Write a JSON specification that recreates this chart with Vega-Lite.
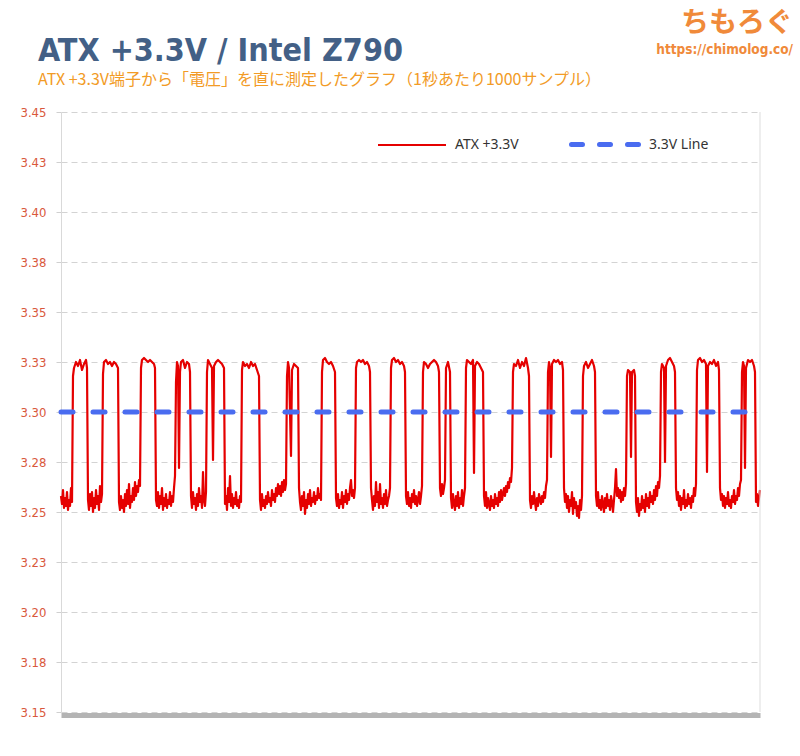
{
"$schema": "https://vega.github.io/schema/vega-lite/v6.json",
"width": 699, "height": 600,
"autosize": {"type": "none"},
"padding": {"left": 61, "top": 112, "right": 40, "bottom": 44},
"background": "#ffffff",
"title": {"text": "ATX +3.3V / Intel Z790", "subtitle": "ATX +3.3V端子から「電圧」を直に測定したグラフ（1秒あたり1000サンプル）", "anchor": "start", "frame": "group", "dx": -23, "dy": 107, "offset": 28, "font": "'DejaVu Sans Condensed', Roboto, sans-serif", "fontSize": 32, "fontWeight": "bold", "color": "#436086", "subtitleFont": "Noto Sans CJK JP", "subtitleFontSize": 16, "subtitleColor": "#F29B26", "subtitlePadding": 4},
"datasets": {
"atx": [
{"t":1,"v":3.258},{"t":2,"v":3.254},{"t":3,"v":3.261},{"t":4,"v":3.252},{"t":5,"v":3.257},{"t":6,"v":3.253},{"t":7,"v":3.26},{"t":8,"v":3.251},{"t":9,"v":3.256},{"t":10,"v":3.253},{"t":11,"v":3.262},{"t":12,"v":3.255},
{"t":13,"v":3.318},{"t":14,"v":3.322},{"t":16,"v":3.325},{"t":18,"v":3.323},{"t":20,"v":3.326},{"t":22,"v":3.321},{"t":24,"v":3.324},{"t":26,"v":3.326},{"t":27,"v":3.322},
{"t":28,"v":3.256},{"t":29,"v":3.251},{"t":30,"v":3.259},{"t":31,"v":3.253},{"t":32,"v":3.26},{"t":33,"v":3.25},{"t":34,"v":3.257},{"t":35,"v":3.252},{"t":36,"v":3.261},{"t":37,"v":3.254},{"t":38,"v":3.258},{"t":39,"v":3.251},{"t":40,"v":3.263},{"t":41,"v":3.255},{"t":42,"v":3.259},
{"t":43,"v":3.319},{"t":44,"v":3.325},{"t":46,"v":3.326},{"t":48,"v":3.324},{"t":50,"v":3.325},{"t":52,"v":3.323},{"t":54,"v":3.325},{"t":56,"v":3.324},{"t":58,"v":3.322},
{"t":59,"v":3.255},{"t":60,"v":3.251},{"t":61,"v":3.258},{"t":62,"v":3.252},{"t":63,"v":3.256},{"t":64,"v":3.25},{"t":65,"v":3.259},{"t":66,"v":3.253},{"t":67,"v":3.261},{"t":68,"v":3.254},{"t":69,"v":3.264},{"t":70,"v":3.252},{"t":71,"v":3.258},{"t":72,"v":3.255},{"t":73,"v":3.262},{"t":74,"v":3.256},{"t":75,"v":3.265},{"t":76,"v":3.258},{"t":77,"v":3.263},{"t":78,"v":3.26},{"t":79,"v":3.266},{"t":80,"v":3.263},
{"t":81,"v":3.322},{"t":82,"v":3.326},{"t":84,"v":3.327},{"t":86,"v":3.326},{"t":88,"v":3.325},{"t":90,"v":3.326},{"t":92,"v":3.325},{"t":94,"v":3.324},{"t":95,"v":3.322},
{"t":96,"v":3.256},{"t":97,"v":3.253},{"t":98,"v":3.26},{"t":99,"v":3.252},{"t":100,"v":3.258},{"t":101,"v":3.254},{"t":102,"v":3.262},{"t":103,"v":3.251},{"t":104,"v":3.257},{"t":105,"v":3.253},{"t":106,"v":3.259},{"t":107,"v":3.252},{"t":108,"v":3.256},{"t":109,"v":3.254},{"t":110,"v":3.26},{"t":111,"v":3.253},{"t":112,"v":3.258},{"t":113,"v":3.255},{"t":114,"v":3.262},{"t":115,"v":3.268},
{"t":116,"v":3.315},{"t":117,"v":3.325},{"t":118,"v":3.323},{"t":119,"v":3.272},{"t":120,"v":3.32},{"t":121,"v":3.325},{"t":123,"v":3.326},{"t":125,"v":3.322},{"t":127,"v":3.325},{"t":129,"v":3.324},{"t":130,"v":3.32},
{"t":131,"v":3.258},{"t":132,"v":3.252},{"t":133,"v":3.26},{"t":134,"v":3.254},{"t":135,"v":3.257},{"t":136,"v":3.251},{"t":137,"v":3.259},{"t":138,"v":3.253},{"t":139,"v":3.262},{"t":140,"v":3.255},{"t":141,"v":3.258},{"t":142,"v":3.252},{"t":143,"v":3.27},{"t":144,"v":3.256},{"t":145,"v":3.253},{"t":146,"v":3.26},
{"t":147,"v":3.32},{"t":148,"v":3.326},{"t":150,"v":3.324},{"t":152,"v":3.322},{"t":153,"v":3.276},{"t":154,"v":3.323},{"t":156,"v":3.325},{"t":158,"v":3.326},{"t":160,"v":3.325},{"t":162,"v":3.324},{"t":164,"v":3.322},
{"t":165,"v":3.254},{"t":166,"v":3.258},{"t":167,"v":3.251},{"t":168,"v":3.262},{"t":169,"v":3.255},{"t":170,"v":3.268},{"t":171,"v":3.253},{"t":172,"v":3.259},{"t":173,"v":3.252},{"t":174,"v":3.257},{"t":175,"v":3.254},{"t":176,"v":3.26},{"t":177,"v":3.253},{"t":178,"v":3.256},{"t":179,"v":3.252},{"t":180,"v":3.258},{"t":181,"v":3.255},
{"t":182,"v":3.321},{"t":183,"v":3.325},{"t":185,"v":3.323},{"t":187,"v":3.324},{"t":189,"v":3.322},{"t":191,"v":3.325},{"t":193,"v":3.323},{"t":195,"v":3.324},{"t":197,"v":3.321},{"t":199,"v":3.318},
{"t":200,"v":3.256},{"t":201,"v":3.251},{"t":202,"v":3.259},{"t":203,"v":3.253},{"t":204,"v":3.256},{"t":205,"v":3.252},{"t":206,"v":3.258},{"t":207,"v":3.254},{"t":208,"v":3.26},{"t":209,"v":3.255},{"t":210,"v":3.257},{"t":211,"v":3.253},{"t":212,"v":3.261},{"t":213,"v":3.256},{"t":214,"v":3.259},{"t":215,"v":3.255},{"t":216,"v":3.262},{"t":217,"v":3.258},{"t":218,"v":3.264},{"t":219,"v":3.259},{"t":220,"v":3.263},{"t":221,"v":3.258},{"t":222,"v":3.265},{"t":223,"v":3.26},{"t":224,"v":3.266},{"t":225,"v":3.261},{"t":226,"v":3.264},
{"t":227,"v":3.318},{"t":228,"v":3.325},{"t":229,"v":3.322},{"t":231,"v":3.278},{"t":232,"v":3.321},{"t":234,"v":3.324},{"t":236,"v":3.323},{"t":238,"v":3.322},
{"t":239,"v":3.262},{"t":240,"v":3.255},{"t":241,"v":3.251},{"t":242,"v":3.258},{"t":243,"v":3.253},{"t":244,"v":3.26},{"t":245,"v":3.249},{"t":246,"v":3.256},{"t":247,"v":3.252},{"t":248,"v":3.259},{"t":249,"v":3.254},{"t":250,"v":3.261},{"t":251,"v":3.253},{"t":252,"v":3.257},{"t":253,"v":3.255},{"t":254,"v":3.26},{"t":255,"v":3.254},{"t":256,"v":3.258},{"t":257,"v":3.256},{"t":258,"v":3.262},{"t":259,"v":3.257},{"t":260,"v":3.259},{"t":261,"v":3.256},
{"t":262,"v":3.32},{"t":263,"v":3.326},{"t":265,"v":3.327},{"t":267,"v":3.325},{"t":269,"v":3.324},{"t":271,"v":3.325},{"t":273,"v":3.323},{"t":275,"v":3.32},
{"t":276,"v":3.257},{"t":277,"v":3.253},{"t":278,"v":3.259},{"t":279,"v":3.252},{"t":280,"v":3.256},{"t":281,"v":3.254},{"t":282,"v":3.26},{"t":283,"v":3.252},{"t":284,"v":3.258},{"t":285,"v":3.255},{"t":286,"v":3.261},{"t":287,"v":3.254},{"t":288,"v":3.259},{"t":289,"v":3.256},{"t":290,"v":3.262},{"t":291,"v":3.266},{"t":292,"v":3.258},{"t":293,"v":3.261},{"t":294,"v":3.257},{"t":295,"v":3.262},
{"t":296,"v":3.322},{"t":297,"v":3.325},{"t":299,"v":3.326},{"t":301,"v":3.325},{"t":303,"v":3.326},{"t":305,"v":3.324},{"t":307,"v":3.325},{"t":309,"v":3.323},{"t":310,"v":3.32},
{"t":311,"v":3.262},{"t":312,"v":3.256},{"t":313,"v":3.251},{"t":314,"v":3.258},{"t":315,"v":3.253},{"t":316,"v":3.265},{"t":317,"v":3.255},{"t":318,"v":3.26},{"t":319,"v":3.252},{"t":320,"v":3.264},{"t":321,"v":3.254},{"t":322,"v":3.257},{"t":323,"v":3.252},{"t":324,"v":3.259},{"t":325,"v":3.254},{"t":326,"v":3.261},{"t":327,"v":3.253},{"t":328,"v":3.256},{"t":329,"v":3.258},{"t":330,"v":3.262},
{"t":331,"v":3.322},{"t":332,"v":3.326},{"t":334,"v":3.327},{"t":336,"v":3.325},{"t":338,"v":3.326},{"t":340,"v":3.324},{"t":342,"v":3.325},{"t":344,"v":3.323},{"t":345,"v":3.32},
{"t":346,"v":3.258},{"t":347,"v":3.254},{"t":348,"v":3.26},{"t":349,"v":3.253},{"t":350,"v":3.257},{"t":351,"v":3.252},{"t":352,"v":3.259},{"t":353,"v":3.255},{"t":354,"v":3.261},{"t":355,"v":3.254},{"t":356,"v":3.258},{"t":357,"v":3.253},{"t":358,"v":3.256},{"t":359,"v":3.26},{"t":360,"v":3.254},{"t":361,"v":3.258},{"t":362,"v":3.263},
{"t":363,"v":3.32},{"t":364,"v":3.325},{"t":366,"v":3.324},{"t":368,"v":3.322},{"t":370,"v":3.324},{"t":372,"v":3.325},{"t":374,"v":3.326},{"t":376,"v":3.325},{"t":378,"v":3.323},{"t":379,"v":3.32},
{"t":380,"v":3.262},{"t":381,"v":3.258},{"t":382,"v":3.264},{"t":383,"v":3.259},{"t":384,"v":3.262},{"t":385,"v":3.266},
{"t":386,"v":3.322},{"t":388,"v":3.325},{"t":390,"v":3.32},
{"t":391,"v":3.257},{"t":392,"v":3.252},{"t":393,"v":3.259},{"t":394,"v":3.254},{"t":395,"v":3.251},{"t":396,"v":3.258},{"t":397,"v":3.253},{"t":398,"v":3.26},{"t":399,"v":3.252},{"t":400,"v":3.257},{"t":401,"v":3.254},{"t":402,"v":3.261},{"t":403,"v":3.253},{"t":404,"v":3.258},{"t":405,"v":3.262},
{"t":406,"v":3.322},{"t":407,"v":3.326},{"t":409,"v":3.325},{"t":411,"v":3.324},{"t":413,"v":3.326},{"t":414,"v":3.2695},{"t":415,"v":3.323},{"t":417,"v":3.325},{"t":419,"v":3.324},{"t":421,"v":3.322},{"t":423,"v":3.32},
{"t":424,"v":3.258},{"t":425,"v":3.253},{"t":426,"v":3.26},{"t":427,"v":3.252},{"t":428,"v":3.257},{"t":429,"v":3.254},{"t":430,"v":3.251},{"t":431,"v":3.258},{"t":432,"v":3.253},{"t":433,"v":3.256},{"t":434,"v":3.252},{"t":435,"v":3.259},{"t":436,"v":3.254},{"t":437,"v":3.257},{"t":438,"v":3.253},{"t":439,"v":3.26},{"t":440,"v":3.255},{"t":441,"v":3.261},{"t":442,"v":3.256},{"t":443,"v":3.259},{"t":444,"v":3.262},{"t":445,"v":3.258},{"t":446,"v":3.263},{"t":447,"v":3.26},{"t":448,"v":3.265},{"t":449,"v":3.262},{"t":450,"v":3.267},{"t":451,"v":3.265},{"t":452,"v":3.272},
{"t":453,"v":3.32},{"t":454,"v":3.324},{"t":456,"v":3.323},{"t":458,"v":3.326},{"t":460,"v":3.322},{"t":462,"v":3.325},{"t":464,"v":3.323},{"t":466,"v":3.327},{"t":468,"v":3.322},{"t":469,"v":3.318},
{"t":470,"v":3.256},{"t":471,"v":3.252},{"t":472,"v":3.258},{"t":473,"v":3.254},{"t":474,"v":3.26},{"t":475,"v":3.255},{"t":476,"v":3.251},{"t":477,"v":3.257},{"t":478,"v":3.253},{"t":479,"v":3.259},{"t":480,"v":3.256},{"t":481,"v":3.254},{"t":482,"v":3.258},{"t":483,"v":3.255},{"t":484,"v":3.26},{"t":485,"v":3.257},{"t":486,"v":3.263},{"t":487,"v":3.266},
{"t":488,"v":3.32},{"t":489,"v":3.325},{"t":490,"v":3.322},{"t":491,"v":3.2775},{"t":492,"v":3.324},{"t":494,"v":3.326},{"t":496,"v":3.325},{"t":498,"v":3.326},{"t":500,"v":3.324},{"t":502,"v":3.325},{"t":503,"v":3.321},
{"t":504,"v":3.262},{"t":505,"v":3.255},{"t":506,"v":3.259},{"t":507,"v":3.252},{"t":508,"v":3.258},{"t":509,"v":3.25},{"t":510,"v":3.256},{"t":511,"v":3.253},{"t":512,"v":3.26},{"t":513,"v":3.249},{"t":514,"v":3.257},{"t":515,"v":3.252},{"t":516,"v":3.255},{"t":517,"v":3.248},{"t":518,"v":3.253},{"t":519,"v":3.247},{"t":520,"v":3.256},{"t":521,"v":3.251},{"t":522,"v":3.258},
{"t":523,"v":3.318},{"t":524,"v":3.323},{"t":526,"v":3.325},{"t":528,"v":3.322},{"t":530,"v":3.324},{"t":532,"v":3.326},{"t":534,"v":3.323},{"t":535,"v":3.32},
{"t":536,"v":3.258},{"t":537,"v":3.253},{"t":538,"v":3.26},{"t":539,"v":3.252},{"t":540,"v":3.256},{"t":541,"v":3.251},{"t":542,"v":3.258},{"t":543,"v":3.254},{"t":544,"v":3.25},{"t":545,"v":3.257},{"t":546,"v":3.252},{"t":547,"v":3.259},{"t":548,"v":3.253},{"t":549,"v":3.256},{"t":550,"v":3.251},{"t":551,"v":3.258},{"t":552,"v":3.255},{"t":553,"v":3.25},{"t":554,"v":3.256},{"t":555,"v":3.262},{"t":556,"v":3.2715},{"t":557,"v":3.258},{"t":558,"v":3.262},{"t":559,"v":3.257},{"t":560,"v":3.261},{"t":561,"v":3.255},{"t":562,"v":3.26},{"t":563,"v":3.256},{"t":564,"v":3.262},{"t":565,"v":3.258},{"t":566,"v":3.264},
{"t":567,"v":3.318},{"t":568,"v":3.321},{"t":570,"v":3.32},{"t":571,"v":3.2775},{"t":572,"v":3.32},{"t":574,"v":3.321},{"t":575,"v":3.318},
{"t":576,"v":3.255},{"t":577,"v":3.25},{"t":578,"v":3.257},{"t":579,"v":3.248},{"t":580,"v":3.254},{"t":581,"v":3.251},{"t":582,"v":3.258},{"t":583,"v":3.252},{"t":584,"v":3.256},{"t":585,"v":3.25},{"t":586,"v":3.259},{"t":587,"v":3.253},{"t":588,"v":3.257},{"t":589,"v":3.252},{"t":590,"v":3.26},{"t":591,"v":3.255},{"t":592,"v":3.258},{"t":593,"v":3.254},{"t":594,"v":3.261},{"t":595,"v":3.256},{"t":596,"v":3.263},{"t":597,"v":3.258},{"t":598,"v":3.265},{"t":599,"v":3.262},{"t":600,"v":3.268},
{"t":601,"v":3.32},{"t":602,"v":3.324},{"t":604,"v":3.322},{"t":605,"v":3.275},{"t":606,"v":3.323},{"t":608,"v":3.326},{"t":610,"v":3.327},{"t":612,"v":3.325},{"t":614,"v":3.323},{"t":615,"v":3.32},
{"t":616,"v":3.262},{"t":617,"v":3.256},{"t":618,"v":3.26},{"t":619,"v":3.253},{"t":620,"v":3.258},{"t":621,"v":3.251},{"t":622,"v":3.257},{"t":623,"v":3.254},{"t":624,"v":3.261},{"t":625,"v":3.252},{"t":626,"v":3.256},{"t":627,"v":3.253},{"t":628,"v":3.259},{"t":629,"v":3.254},{"t":630,"v":3.257},{"t":631,"v":3.252},{"t":632,"v":3.258},{"t":633,"v":3.255},{"t":634,"v":3.262},{"t":635,"v":3.258},{"t":636,"v":3.264},
{"t":637,"v":3.321},{"t":638,"v":3.326},{"t":640,"v":3.327},{"t":642,"v":3.325},{"t":644,"v":3.326},{"t":646,"v":3.324},{"t":647,"v":3.27},{"t":648,"v":3.323},{"t":650,"v":3.325},{"t":652,"v":3.324},{"t":654,"v":3.326},{"t":656,"v":3.323},{"t":658,"v":3.325},{"t":659,"v":3.321},
{"t":660,"v":3.262},{"t":661,"v":3.256},{"t":662,"v":3.259},{"t":663,"v":3.253},{"t":664,"v":3.258},{"t":665,"v":3.252},{"t":666,"v":3.257},{"t":667,"v":3.254},{"t":668,"v":3.26},{"t":669,"v":3.253},{"t":670,"v":3.256},{"t":671,"v":3.252},{"t":672,"v":3.258},{"t":673,"v":3.255},{"t":674,"v":3.261},{"t":675,"v":3.254},{"t":676,"v":3.258},{"t":677,"v":3.256},{"t":678,"v":3.262},{"t":679,"v":3.258},{"t":680,"v":3.264},{"t":681,"v":3.266},
{"t":682,"v":3.32},{"t":683,"v":3.325},{"t":684,"v":3.323},{"t":685,"v":3.272},{"t":686,"v":3.322},{"t":688,"v":3.326},{"t":690,"v":3.325},{"t":692,"v":3.326},{"t":694,"v":3.323},{"t":695,"v":3.32},
{"t":696,"v":3.255},{"t":697,"v":3.259},{"t":698,"v":3.253},{"t":699,"v":3.257},{"t":700,"v":3.261}
],
"ref": [{"t":1,"v":3.3},{"t":700,"v":3.3}]
},
"layer": [
{"data": {"name": "atx"},
 "mark": {"type": "line", "strokeWidth": 2.2, "strokeJoin": "round"},
 "encoding": {
  "x": {"field": "t", "type": "quantitative", "scale": {"domain": [1, 700], "nice": false, "zero": false},
        "axis": {"title": null, "labels": false, "ticks": false, "grid": false, "domainColor": "#b4b4b4", "domainWidth": 5, "offset": 3}},
  "y": {"field": "v", "type": "quantitative", "scale": {"domain": [3.15, 3.45], "nice": false, "zero": false},
        "axis": {"title": null, "values": [3.15,3.175,3.2,3.225,3.25,3.275,3.3,3.325,3.35,3.375,3.4,3.425,3.45], "labelExpr": "format(datum.value + 0.0001, '.2f')", "labelFont": "'DejaVu Sans Condensed', Roboto, sans-serif", "labelFontSize": 13, "labelColor": "#D9583C", "labelPadding": 10, "tickSize": 5, "tickColor": "#d0d0d0", "domainColor": "#d9d9d9", "gridColor": "#d3d3d3", "gridDash": [6, 4]}},
  "color": {"datum": "ATX +3.3V", "type": "nominal",
            "scale": {"domain": ["ATX +3.3V"], "range": ["#E50000"]},
            "legend": {"orient": "none", "legendX": 316, "legendY": -2, "title": null, "symbolType": "stroke", "symbolSize": 4624, "symbolStrokeWidth": 2, "labelFont": "Noto Sans", "labelFontSize": 14, "labelColor": "#333333", "labelOffset": 8, "padding": 0}}
 }},
{"data": {"name": "ref"},
 "mark": {"type": "line", "strokeWidth": 5, "strokeDash": [12, 20], "strokeCap": "round"},
 "encoding": {
  "x": {"field": "t", "type": "quantitative"},
  "y": {"field": "v", "type": "quantitative"},
  "stroke": {"datum": "3.3V Line", "type": "nominal",
            "scale": {"domain": ["3.3V Line"], "range": ["#4A6CF0"]},
            "legend": {"orient": "none", "legendX": 508, "legendY": -4, "title": null, "symbolType": "stroke", "symbolSize": 4624, "symbolStrokeWidth": 5, "symbolDash": [11, 17], "labelFont": "Noto Sans", "labelFontSize": 14, "labelColor": "#333333", "labelOffset": 7, "padding": 0,
                       "encode": {"symbols": {"update": {"strokeCap": {"value": "round"}}}}}}
 }},
{"data": {"values": [{}]},
 "mark": {"type": "rule", "color": "#dddddd", "strokeWidth": 1},
 "encoding": {"x": {"datum": 700, "type": "quantitative"}}},
{"data": {"values": [{}]},
 "mark": {"type": "text", "align": "right", "baseline": "middle", "font": "Noto Sans CJK JP", "fontSize": 28, "fontWeight": "bold", "color": "#F08A3A"},
 "encoding": {"x": {"datum": 733, "type": "quantitative"}, "y": {"datum": 3.494, "type": "quantitative"}, "text": {"value": "ちもろぐ"}}},
{"data": {"values": [{}]},
 "mark": {"type": "text", "align": "right", "baseline": "middle", "font": "'DejaVu Sans Condensed', Roboto, sans-serif", "fontSize": 13.5, "fontWeight": "bold", "color": "#F08A3A"},
 "encoding": {"x": {"datum": 733, "type": "quantitative"}, "y": {"datum": 3.4812, "type": "quantitative"}, "text": {"value": "https://chimolog.co/"}}}
],
"config": {"view": {"stroke": null}}
}
